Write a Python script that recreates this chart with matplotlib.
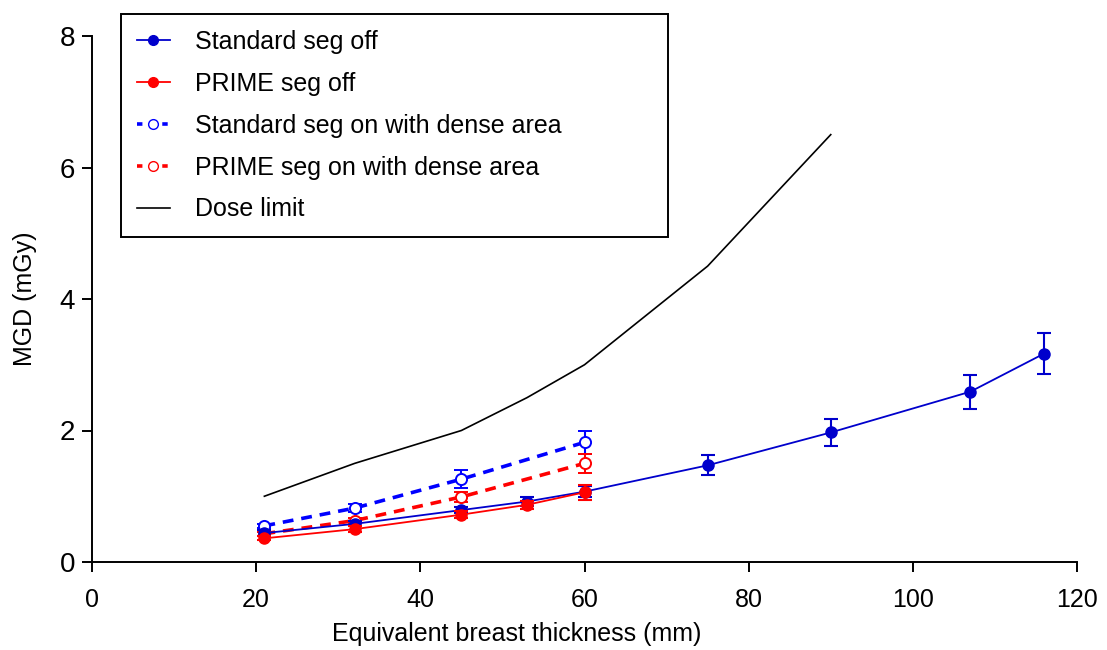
import matplotlib
matplotlib.use("Agg")
import matplotlib.pyplot as plt
from matplotlib.lines import Line2D

# ---- data ----
x_std_off = [21, 32, 45, 53, 60, 75, 90, 107, 116]
y_std_off = [0.44, 0.58, 0.79, 0.92, 1.07, 1.47, 1.97, 2.59, 3.17]
e_std_off = [0.04, 0.04, 0.05, 0.07, 0.08, 0.15, 0.20, 0.26, 0.31]

x_prime_off = [21, 32, 45, 53, 60]
y_prime_off = [0.36, 0.50, 0.72, 0.87, 1.06]
e_prime_off = [0.03, 0.04, 0.05, 0.06, 0.11]

x_std_on = [21, 32, 45, 60]
y_std_on = [0.55, 0.82, 1.26, 1.82]
e_std_on = [0.03, 0.06, 0.14, 0.18]

x_prime_on = [21, 32, 45, 60]
y_prime_on = [0.43, 0.63, 0.99, 1.50]
e_prime_on = [0.03, 0.04, 0.08, 0.15]

x_limit = [21, 32, 45, 53, 60, 75, 90]
y_limit = [1.0, 1.5, 2.0, 2.5, 3.0, 4.5, 6.5]

labels = ["Standard seg off", "PRIME seg off", "Standard seg on with dense area",
          "PRIME seg on with dense area", "Dose limit"]
x_ticks = [0, 20, 40, 60, 80, 100, 120]
y_ticks = [0, 2, 4, 6, 8]

plt.rcParams['font.family'] = ['Liberation Sans', 'DejaVu Sans']

fig = plt.figure(figsize=(11.07, 6.5), dpi=100)
ax = fig.add_axes([92/1107, 1-562/650, (1077-92)/1107, (562-36)/650])

c_std_off = "#0000CC"
c_prime_off = "#FF0000"
c_std_on = "#0000FF"
c_prime_on = "#FF0000"

ax.plot(x_limit, y_limit, color="black", lw=1.2, zorder=2)

ax.errorbar(x_std_off, y_std_off, yerr=e_std_off, color=c_std_off, lw=1.3,
            marker="o", ms=8, capsize=5, capthick=1.5, elinewidth=1.5, zorder=4)
ax.errorbar(x_prime_off, y_prime_off, yerr=e_prime_off, color=c_prime_off, lw=1.3,
            marker="o", ms=8, capsize=5, capthick=1.5, elinewidth=1.5, zorder=5)
ax.errorbar(x_std_on, y_std_on, yerr=e_std_on, color=c_std_on, lw=2.6,
            dashes=(3, 2.2), marker="o", ms=8, mfc="white", mew=1.4,
            capsize=5, capthick=1.5, elinewidth=1.5, zorder=3)
ax.errorbar(x_prime_on, y_prime_on, yerr=e_prime_on, color=c_prime_on, lw=2.6,
            dashes=(3, 2.2), marker="o", ms=8, mfc="white", mew=1.4,
            capsize=5, capthick=1.5, elinewidth=1.5, zorder=3)

ax.set_xlim(0, 120)
ax.set_ylim(0, 8)
ax.set_xticks(x_ticks)
ax.set_yticks(y_ticks)
ax.set_xticklabels([str(t) for t in x_ticks], fontsize=18)
ax.set_yticklabels([str(t) for t in y_ticks], fontsize=20)
ax.tick_params(axis="x", direction="out", length=7, width=1.4, pad=12)
ax.tick_params(axis="y", direction="out", length=7, width=1.4, pad=5)
for s in ["top", "right"]:
    ax.spines[s].set_visible(False)
for s in ["left", "bottom"]:
    ax.spines[s].set_linewidth(1.4)

ax.set_xlabel("Equivalent breast thickness (mm)", fontsize=18)
ax.xaxis.set_label_coords((517-92)/985, (562-622)/526)
ax.set_ylabel("MGD (mGy)", fontsize=18)
ax.yaxis.set_label_coords((37-92)/985, 0.5)

handles = [
    Line2D([], [], color=c_std_off, lw=1.3, marker="o", ms=7),
    Line2D([], [], color=c_prime_off, lw=1.3, marker="o", ms=7),
    Line2D([], [], color=c_std_on, lw=2.6, dashes=(1.5, 2), marker="o", ms=7, mfc="white"),
    Line2D([], [], color=c_prime_on, lw=2.6, dashes=(1.5, 2), marker="o", ms=7, mfc="white"),
    Line2D([], [], color="black", lw=1.2),
]
leg = ax.legend(handles, labels, loc="upper left", fontsize=18, frameon=True,
                fancybox=False, edgecolor="black", framealpha=1,
                bbox_to_anchor=((121-92)/985, (562-237)/526, (668-121)/985, (237-14)/526),
                mode="expand", borderaxespad=0, handlelength=1.35, handletextpad=1.0,
                labelspacing=0.72, borderpad=0.62)
leg.get_frame().set_linewidth(1.4)

fig.savefig("out.png", dpi=100)
